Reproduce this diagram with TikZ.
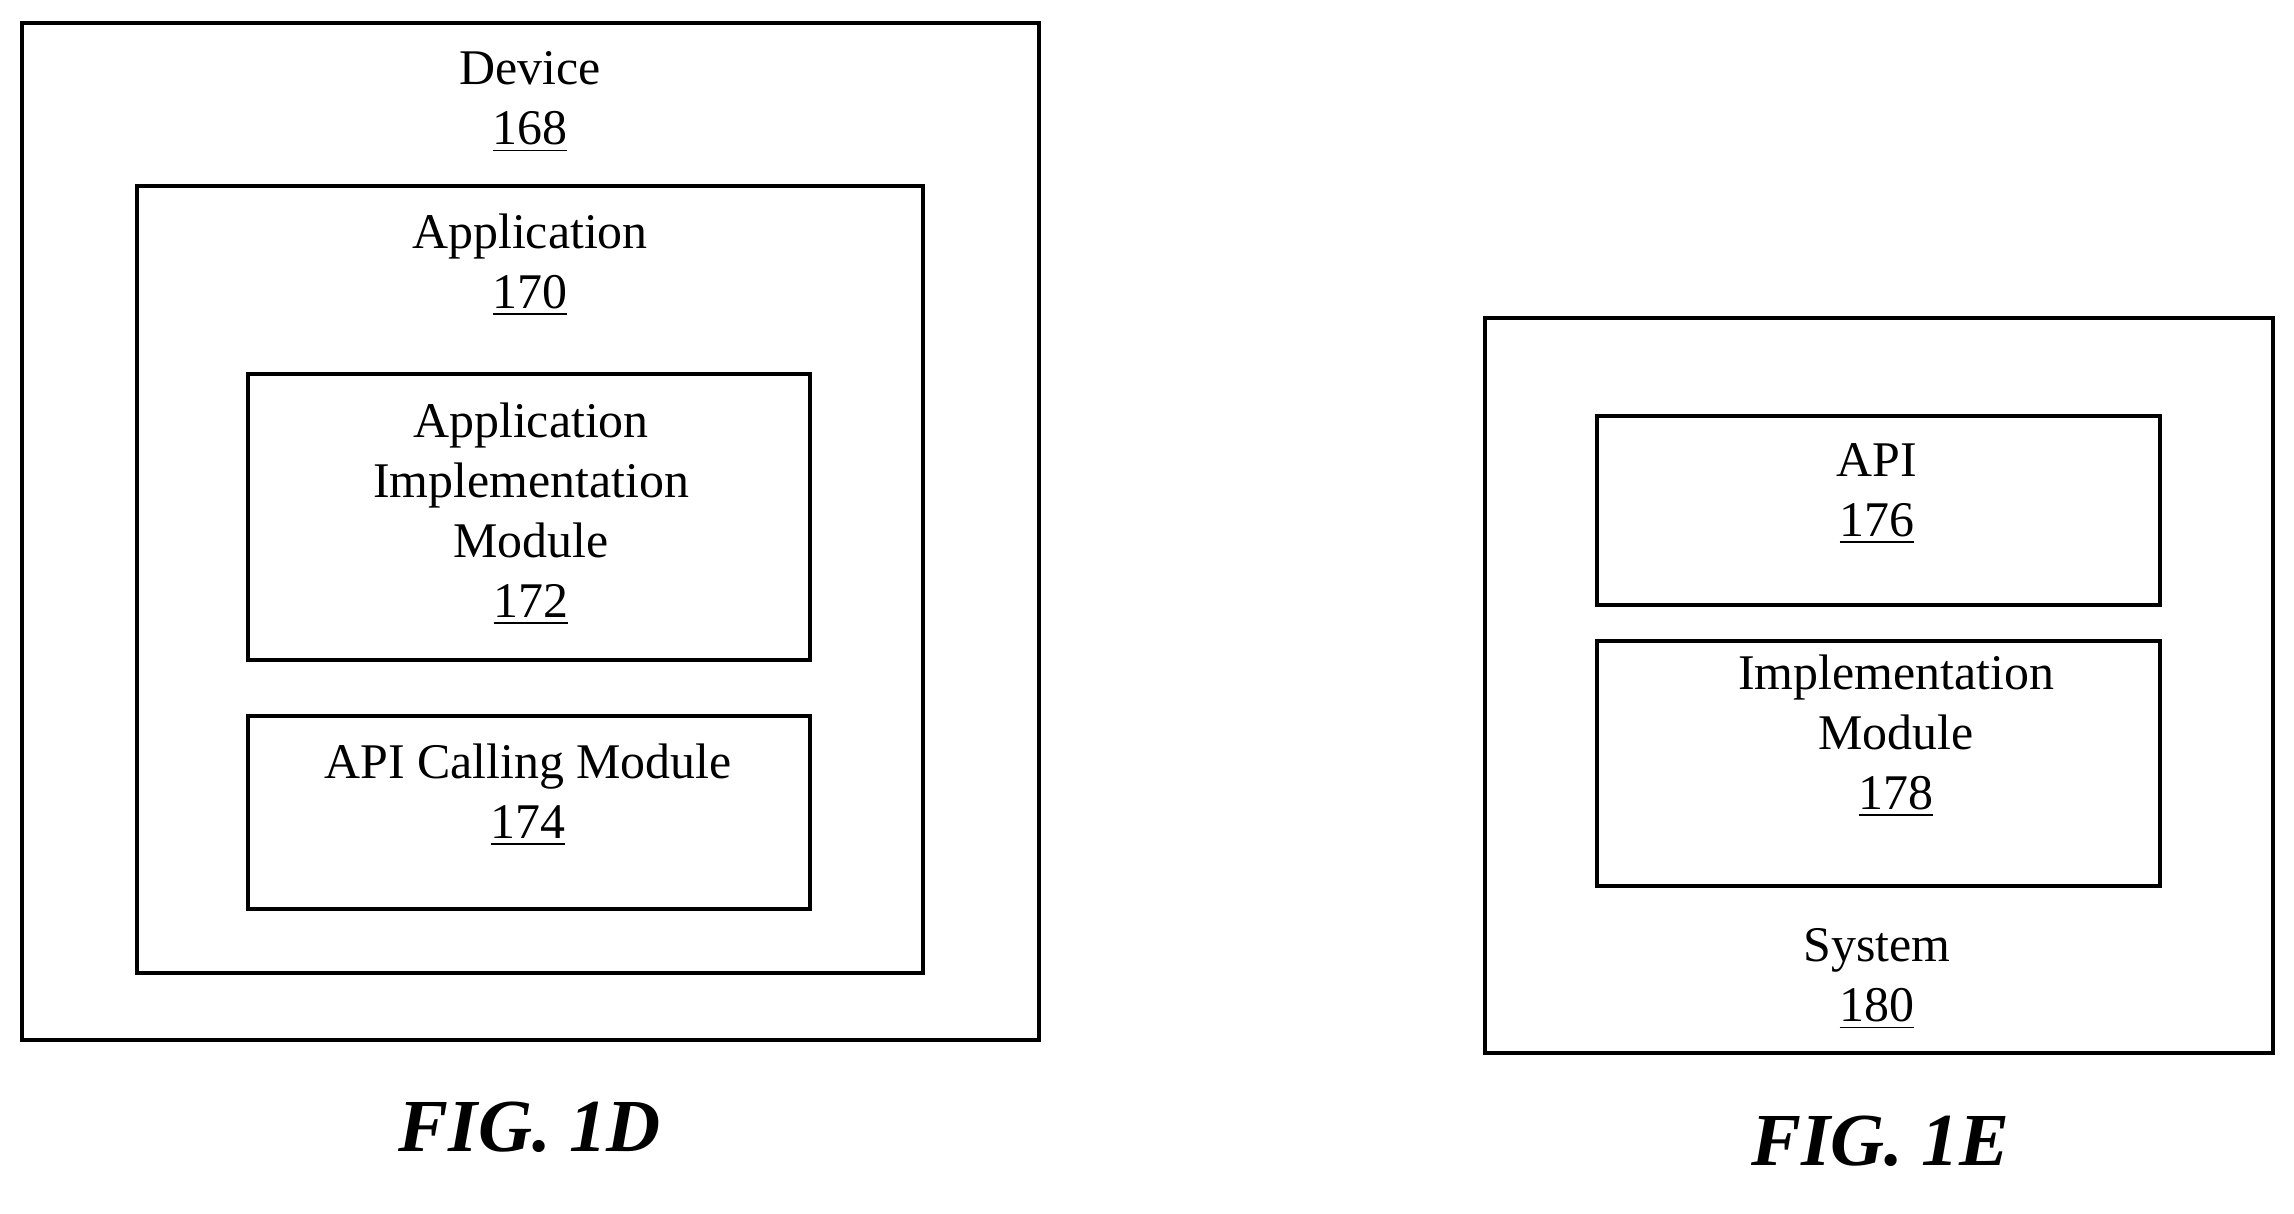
\documentclass[tikz,border=0pt]{standalone}
\usepackage{fontspec}
\setmainfont{Liberation Serif}
\begin{document}
\begin{tikzpicture}[x=0.1mm,y=-0.1mm,
  box/.style={draw, line width=1.15pt, anchor=north west, inner sep=0pt},
  lbl/.style={align=center, inner sep=0pt, font=\fontsize{14.2}{17.1}\selectfont},
  fig/.style={inner sep=0pt, font=\fontsize{21.3}{25}\selectfont\bfseries\itshape}]
\useasboundingbox[fill=white] (0,0) rectangle (2294,1213);
% FIG 1D
\node[box, minimum width=101.7mm, minimum height=101.7mm] (device) at (20,21) {};
\node[box, minimum width=78.6mm, minimum height=78.7mm] (app) at (135,184) {};
\node[box, minimum width=56.2mm, minimum height=28.6mm] (aim) at (246,372) {};
\node[box, minimum width=56.2mm, minimum height=19.3mm] (acm) at (246,714) {};
\node[lbl] (tdev) at (530,102) {Device\\\underline{168}};
\node[lbl] (tapp) at (530,265) {Application\\\underline{170}};
\node[lbl] (taim) at (531,514) {Application\\Implementation\\Module\\\underline{172}};
\node[lbl] (tacm) at (528,795) {API Calling Module\\\underline{174}};
\node[fig] (fig1d) at (530,1127) {FIG. 1D};
% FIG 1E
\node[box, minimum width=78.8mm, minimum height=73.5mm] (sys) at (1483,316) {};
\node[box, minimum width=56.3mm, minimum height=18.9mm] (api) at (1595,414) {};
\node[box, minimum width=56.3mm, minimum height=24.5mm] (imp) at (1595,639) {};
\node[lbl] (tapi) at (1877,494) {API\\\underline{176}};
\node[lbl] (timp) at (1896,736) {Implementation\\Module\\\underline{178}};
\node[lbl] (tsys) at (1877,979) {System\\\underline{180}};
\node[fig] (fig1e) at (1880,1141) {FIG. 1E};
\end{tikzpicture}
\end{document}
